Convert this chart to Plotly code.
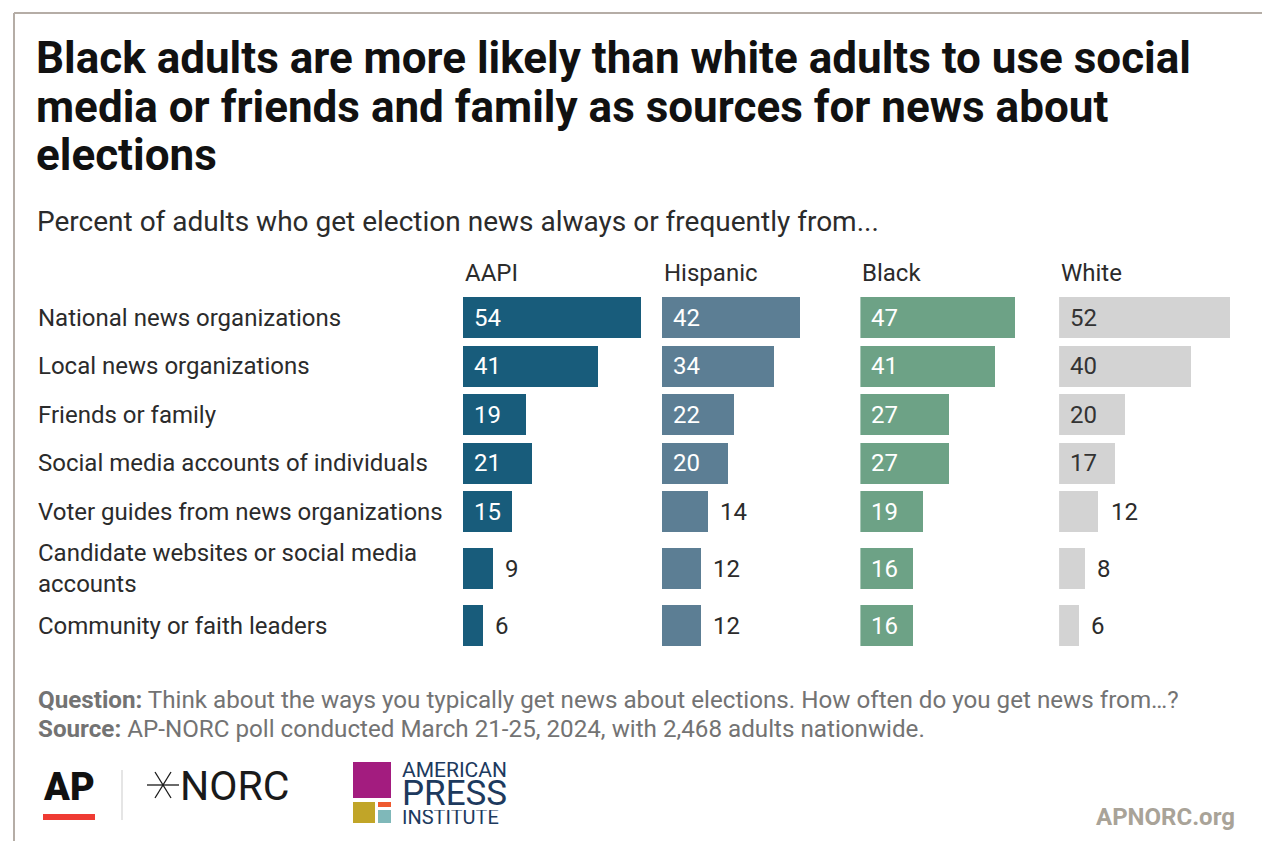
import plotly.graph_objects as go

# ---------------- data ----------------
categories = [
    "National news organizations",
    "Local news organizations",
    "Friends or family",
    "Social media accounts of individuals",
    "Voter guides from news organizations",
    "Candidate websites or social media<br>accounts",
    "Community or faith leaders",
]
groups = ["AAPI", "Hispanic", "Black", "White"]
aapi = [54, 41, 19, 21, 15, 9, 6]
hispanic = [42, 34, 22, 20, 14, 12, 12]
black = [47, 41, 27, 27, 19, 16, 16]
white = [52, 40, 20, 17, 12, 8, 6]
series = [aapi, hispanic, black, white]

title_lines = [
    "Black adults are more likely than white adults to use social",
    "media or friends and family as sources for news about",
    "elections",
]
subtitle_text = "Percent of adults who get election news always or frequently from..."
question_text = ("<b>Question:</b> Think about the ways you typically get news about elections. "
                 "How often do you get news from\u2026?")
source_text = "<b>Source:</b> AP-NORC poll conducted March 21-25, 2024, with 2,468 adults nationwide."

# ---------------- styling / layout ----------------
W, H = 1262, 841
FONT = "Roboto"
colors = ["#185c7b", "#5c7e94", "#6da286", "#d3d3d3"]
inside_colors = ["white", "white", "white", "#333333"]
TEXT = "#2b2b2b"
INSIDE_MIN = 15  # values at least this large carry their label inside the bar

panel_start0, panel_step, panel_w = 463.0, 198.7, 197.4
x_max = 60.0
bar_h = 41
row_top_center, row_h, extra_line = 317.5, 48.5, 17.0
BODY = 24


def px(x):
    return x / W


def py(y):
    return 1 - y / H


# row centres (pixel units, y axis is in pixel units, reversed)
lines = [c.count("<br>") + 1 for c in categories]
heights = [row_h + extra_line * (n - 1) for n in lines]
centers = [row_top_center]
for i in range(1, len(categories)):
    centers.append(centers[-1] + (heights[i - 1] + heights[i]) / 2)

fig = go.Figure()
annotations = []
shapes = []

for g, (name, vals) in enumerate(zip(groups, series)):
    ax = "x" if g == 0 else f"x{g + 1}"
    fig.add_trace(go.Bar(
        x=vals, y=centers, orientation="h", width=bar_h,
        marker=dict(color=colors[g], line=dict(width=0)),
        xaxis=ax, yaxis="y", name=name, hoverinfo="x",
        showlegend=False,
    ))
    start = panel_start0 + g * panel_step
    key = "xaxis" if g == 0 else f"xaxis{g + 1}"
    fig.layout[key] = dict(domain=[px(start), px(start + panel_w)], range=[0, x_max],
                           visible=False, anchor="y", fixedrange=True)
    # header
    annotations.append(dict(text=name, x=px(start), y=py(273), xref="paper", yref="paper",
                            xanchor="left", yanchor="middle", showarrow=False,
                            font=dict(family=FONT, size=BODY, color=TEXT)))
    # value labels
    for v, c in zip(vals, centers):
        if v >= INSIDE_MIN:
            annotations.append(dict(text=str(v), x=0, y=c, xref=ax, yref="y", xshift=9,
                                    xanchor="left", yanchor="middle", showarrow=False,
                                    font=dict(family=FONT, size=BODY, color=inside_colors[g])))
        else:
            annotations.append(dict(text=str(v), x=v, y=c, xref=ax, yref="y", xshift=10,
                                    xanchor="left", yanchor="middle", showarrow=False,
                                    font=dict(family=FONT, size=BODY, color=TEXT)))

# category labels
for cat, c in zip(categories, centers):
    annotations.append(dict(text=cat, x=px(36), y=c, xref="paper", yref="y",
                            xanchor="left", yanchor="middle", align="left", showarrow=False,
                            font=dict(family=FONT, size=BODY, color=TEXT)))

# title (one annotation per line for tight leading) / subtitle
for k, t in enumerate(title_lines):
    annotations.append(dict(text="<b>" + t + "</b>", x=px(34), y=py(58 + 48.5 * k),
                            xref="paper", yref="paper", xanchor="left", yanchor="middle",
                            showarrow=False, font=dict(family=FONT, size=44, color="#111111")))
annotations.append(dict(text=subtitle_text, x=px(35), y=py(222), xref="paper", yref="paper",
                        xanchor="left", yanchor="middle", showarrow=False,
                        font=dict(family=FONT, size=28, color=TEXT)))
# notes
for t, yy in [(question_text, 700), (source_text, 729)]:
    annotations.append(dict(text=t, x=px(36), y=py(yy), xref="paper", yref="paper",
                            xanchor="left", yanchor="middle", showarrow=False, height=26,
                            font=dict(family=FONT, size=24.2, color="#737373")))

# footer logos (text + shapes)
annotations.append(dict(text="APNORC.org", x=px(1237), y=py(817), xref="paper", yref="paper",
                        xanchor="right", yanchor="middle", showarrow=False,
                        font=dict(family=FONT, size=24, color="#a9a398", weight=700)))
annotations.append(dict(text="AP", x=px(41), y=py(787), xref="paper", yref="paper",
                        xanchor="left", yanchor="middle", showarrow=False,
                        font=dict(family=FONT, size=38, color="#111111", weight=900)))
annotations.append(dict(text="NORC", x=px(178), y=py(786), xref="paper", yref="paper",
                        xanchor="left", yanchor="middle", showarrow=False,
                        font=dict(family=FONT, size=41, color="#1a1a1a")))
api_navy = "#1d3a5e"
for t, yy, sz, hh in [("AMERICAN", 770, 21, 16), ("PRESS", 793, 35, 26), ("INSTITUTE", 817, 20, 14)]:
    annotations.append(dict(text=t, x=px(400), y=py(yy), xref="paper", yref="paper",
                            xanchor="left", yanchor="middle", showarrow=False, height=hh,
                            font=dict(family=FONT, size=sz, color=api_navy)))


def rect(x0, y0, x1, y1, color):
    return dict(type="rect", xref="paper", yref="paper", x0=px(x0), x1=px(x1),
                y0=py(y1), y1=py(y0), fillcolor=color, line=dict(width=0), layer="above")


def line(x0, y0, x1, y1, color, w):
    return dict(type="line", xref="paper", yref="paper", x0=px(x0), x1=px(x1),
                y0=py(y0), y1=py(y1), line=dict(color=color, width=w))


shapes += [
    line(14, 13, W, 13, "#b5ada6", 2),
    line(14, 13, 14, H, "#b5ada6", 2),
    rect(43, 814, 95, 820, "#ef3b33"),
    line(122, 770, 122, 820, "#dddddd", 1.5),
    # NORC star
    line(147, 785, 179, 785, "#1a1a1a", 1.3),
    line(155, 772, 171, 798, "#1a1a1a", 1.3),
    line(171, 772, 155, 798, "#1a1a1a", 1.3),
    # API logo squares
    rect(353, 762, 391, 798, "#a31c7f"),
    rect(353, 802, 375, 823, "#c1a528"),
    rect(378, 802, 391, 807, "#ef5a2f"),
    rect(378, 810, 391, 823, "#7fb8b9"),
]

fig.update_layout(
    width=W, height=H, margin=dict(l=0, r=0, t=0, b=0),
    paper_bgcolor="white", plot_bgcolor="white",
    yaxis=dict(domain=[0, 1], range=[H, 0], visible=False, fixedrange=True),
    bargap=0, annotations=annotations, shapes=shapes,
    font=dict(family=FONT),
)

fig.write_html("out.html", config={"displayModeBar": False},
               post_script="document.body.style.margin='0';")
